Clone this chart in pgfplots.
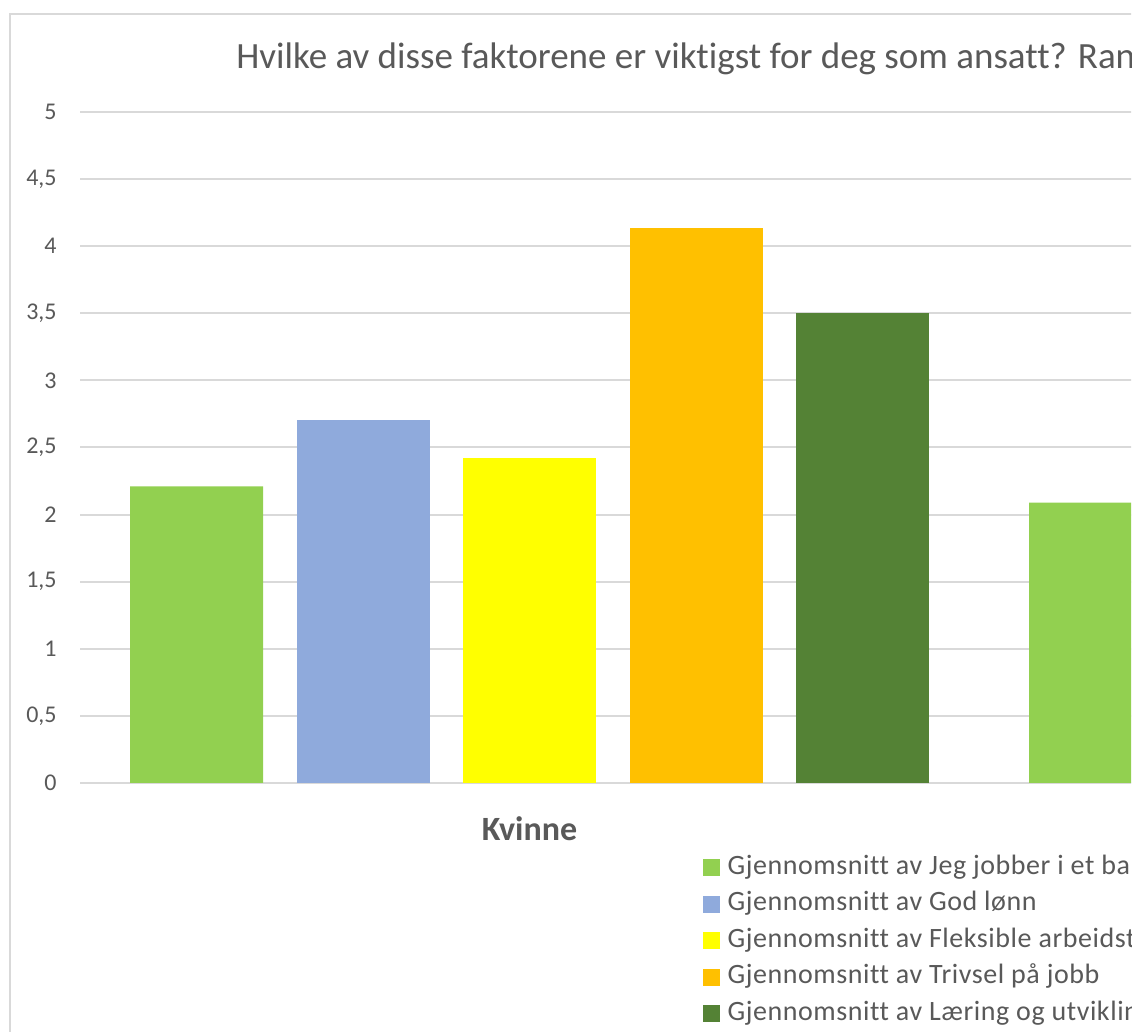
\documentclass[border=0pt]{standalone}
\usepackage{pgfplots}
\pgfplotsset{compat=1.18}
\usepackage{fontspec}
\setmainfont{Carlito}[Ligatures=NoCommon]
\newfontfamily\legfont{Carlito}[Ligatures=NoCommon, LetterSpace=2]
\definecolor{txt}{HTML}{595959}
\definecolor{gridc}{HTML}{D9D9D9}
\definecolor{c1}{HTML}{92D050}
\definecolor{c2}{HTML}{8FAADC}
\definecolor{c3}{HTML}{FFFF00}
\definecolor{c4}{HTML}{FFC000}
\definecolor{c5}{HTML}{548235}
\pgfplotsset{sq/.style={legend image code/.code={\fill[##1,draw=none] (0pt,-4.25pt) rectangle (8.5pt,4.25pt); \path (12.35pt,0pt);}}}
\begin{document}
\begin{tikzpicture}[x=0.5pt,y=0.5pt]
\useasboundingbox (0,0) rectangle (1137,1032);
\begin{scope}
\clip (0,0) rectangle (1131,1032);
\fill[white] (0,0) rectangle (1137,1032);
\draw[gridc, line width=1.25pt] (10,-20) -- (10,1018) -- (1300,1018);
\node[anchor=base west, text=txt, font=\fontsize{18.5}{22}\selectfont, inner sep=0pt] at (236,963) {Hvilke av disse faktorene er viktigst for deg som ansatt? Rangér fra 1 til 5};
\begin{axis}[
  at={(40pt,124.5pt)}, anchor=south west,
  scale only axis, width=899pt, height=335.5pt,
  xmin=0, xmax=2, ymin=0, ymax=5,
  ybar=16.75pt, bar width=66.5pt,
  ytick={0,0.5,1,1.5,2,2.5,3,3.5,4,4.5,5},
  xtick={0.5}, xticklabels={Kvinne},
  axis line style={draw=none},
  major tick length=0pt,
  ymajorgrids, major grid style={gridc, line width=1pt},
  /pgf/number format/.cd, use comma, assume math mode=true, /pgfplots/.cd,
  yticklabel style={font=\fontsize{12}{14}\selectfont, text=txt, inner sep=0pt, xshift=-11.5pt},
  xticklabel style={font=\fontsize{17}{20}\selectfont\bfseries, text=txt, inner sep=0pt, anchor=base, yshift=-29pt},
  legend style={draw=none, fill=none, inner sep=0pt, outer sep=0pt,
    at={(0.3465,-0.106)}, anchor=north west,
    font=\legfont\fontsize{14}{16}\selectfont, text=txt,
    column sep=0pt, row sep=4.75pt,
    nodes={inner sep=0pt, text height=10pt, text depth=3.5pt}},
  legend cell align=left,
]
\addplot[fill=c1, draw=none, sq] coordinates {(0.5,2.21) (1.5,2.09)};
\addplot[fill=c2, draw=none, sq] coordinates {(0.5,2.705)};
\addplot[fill=c3, draw=none, sq] coordinates {(0.5,2.425)};
\addplot[fill=c4, draw=none, sq] coordinates {(0.5,4.136)};
\addplot[fill=c5, draw=none, sq] coordinates {(0.5,3.50)};
\legend{Gjennomsnitt av Jeg jobber i et ba,
Gjennomsnitt av God lønn,
Gjennomsnitt av Fleksible arbeidstider,
Gjennomsnitt av Trivsel på jobb,
Gjennomsnitt av Læring og utvikling}
\end{axis}
\end{scope}
\end{tikzpicture}
\end{document}
